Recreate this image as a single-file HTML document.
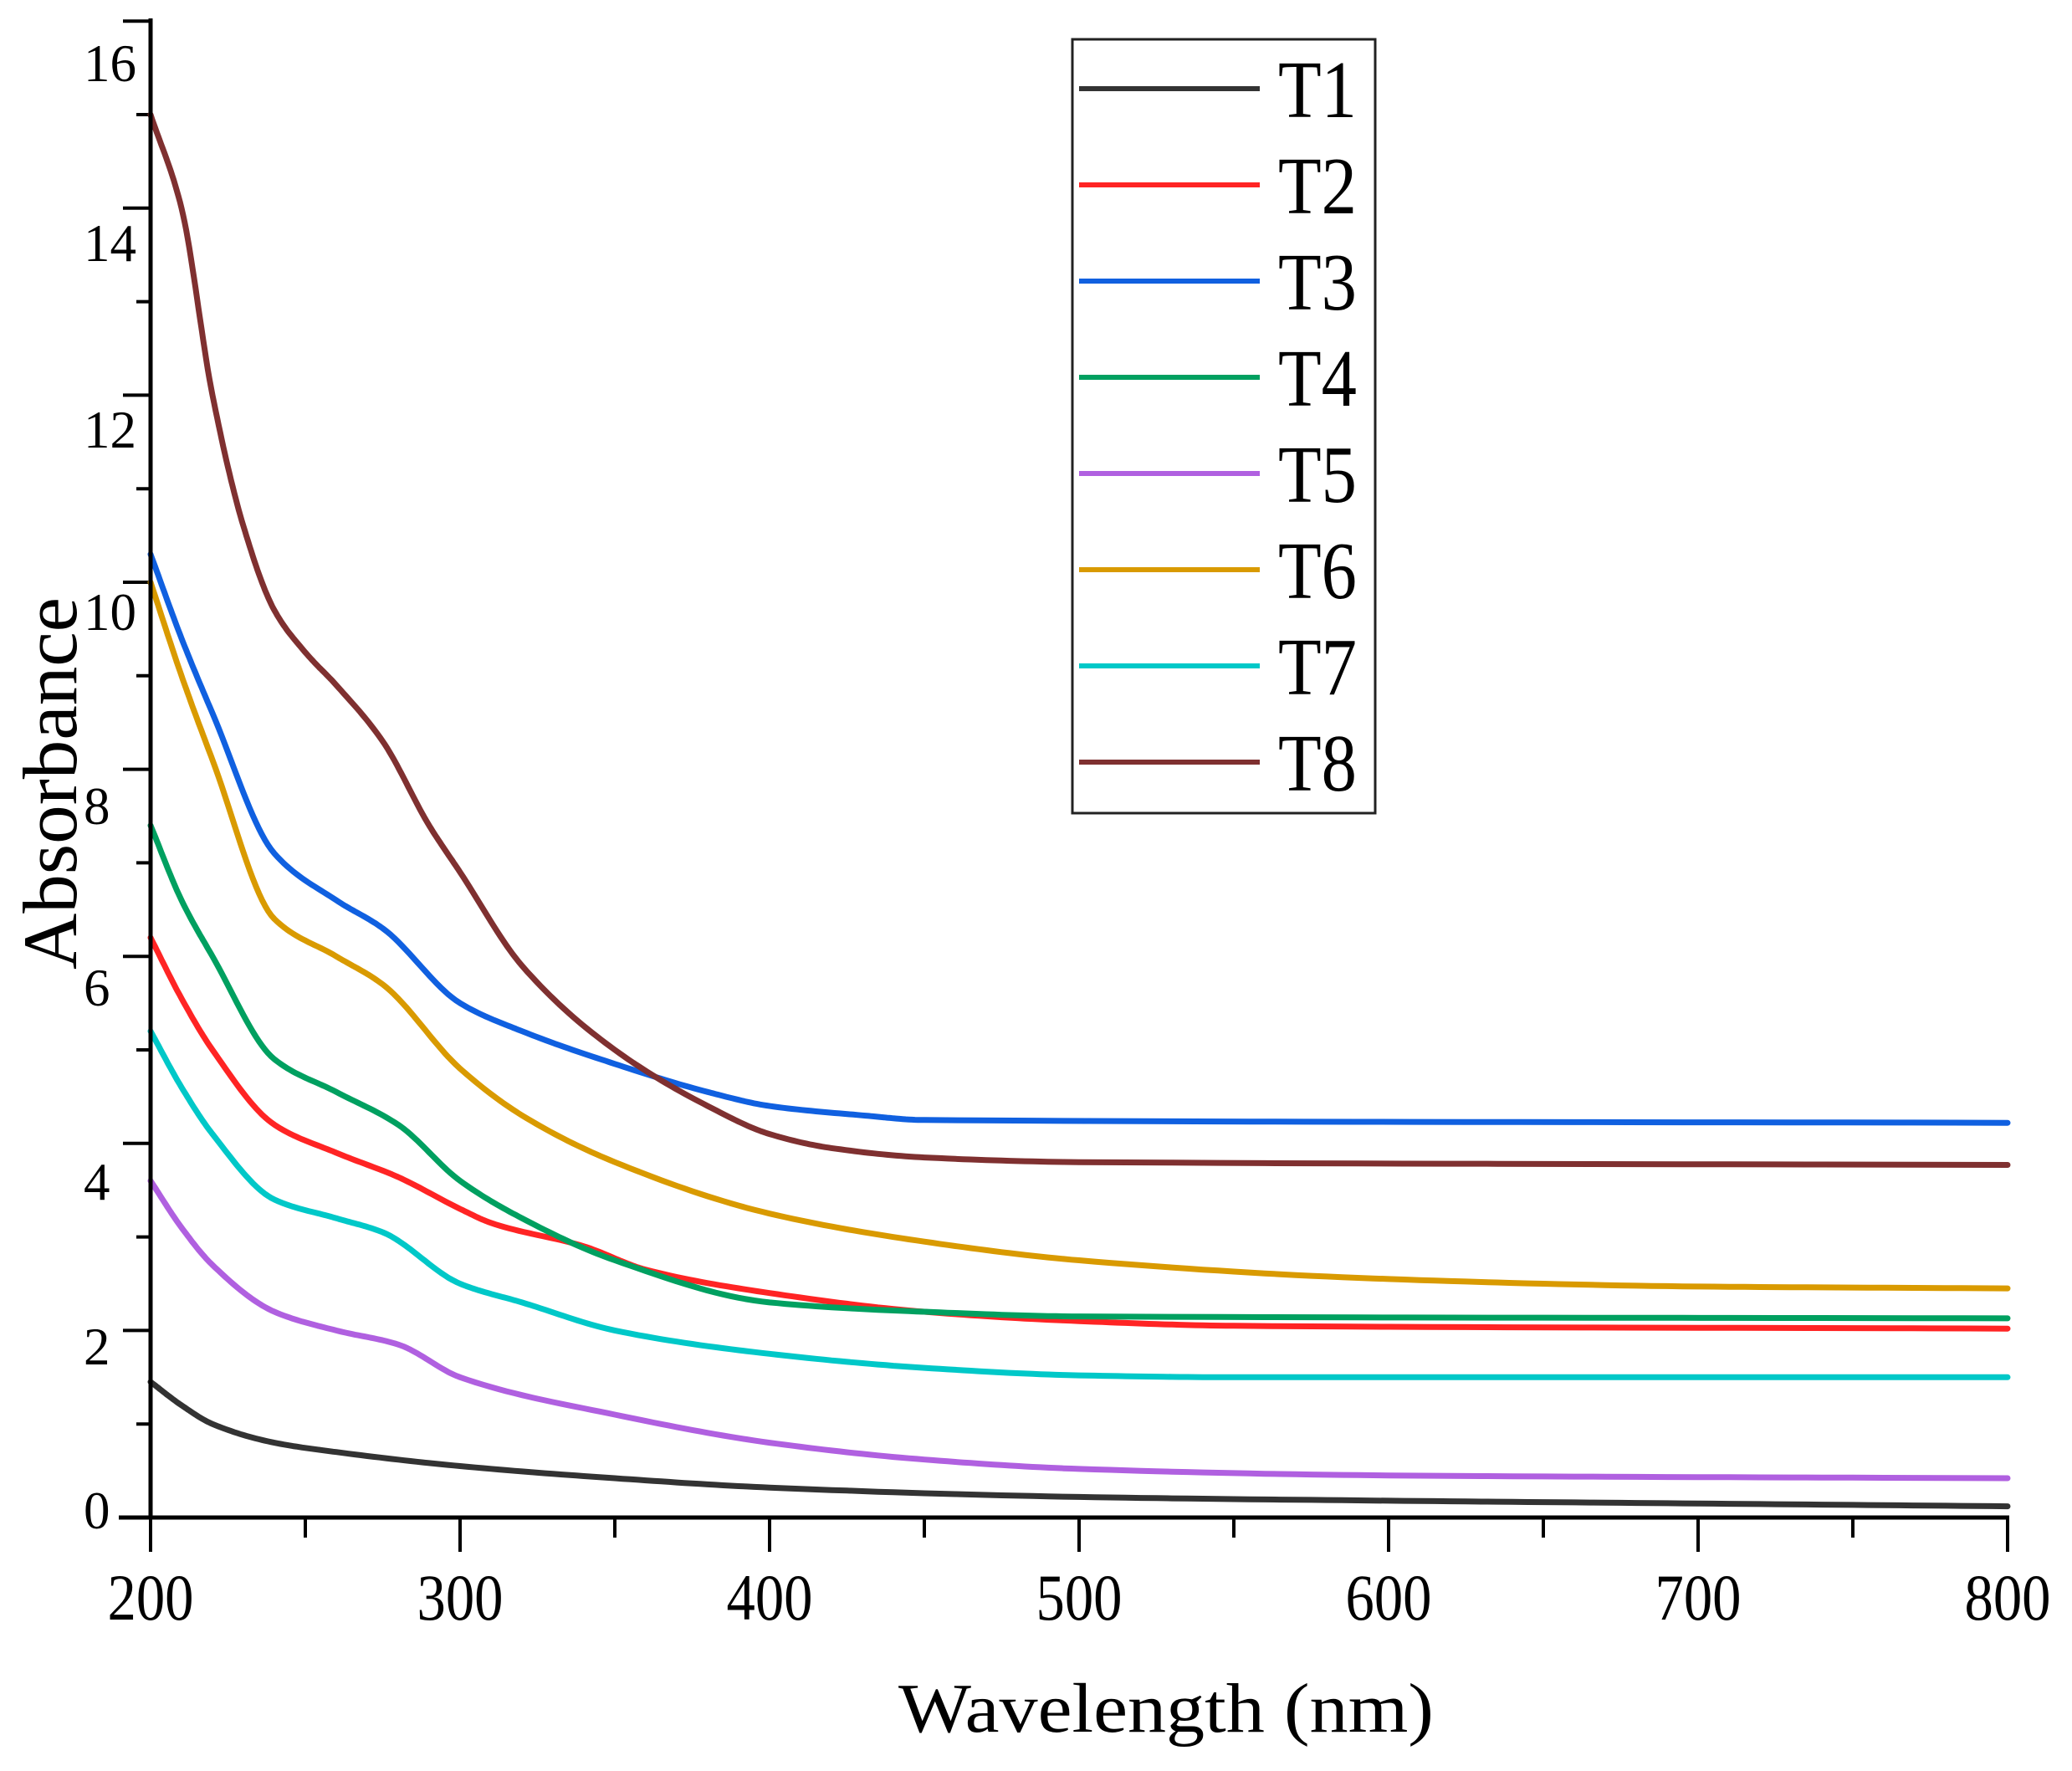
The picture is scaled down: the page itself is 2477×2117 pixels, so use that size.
<!DOCTYPE html>
<html><head><meta charset="utf-8"><style>html,body{margin:0;padding:0;background:#fff}svg{display:block}</style></head>
<body>
<svg id="s" width="2477" height="2117" viewBox="0 0 2477 2117" xmlns="http://www.w3.org/2000/svg" font-family="'Liberation Serif', serif">
<g id="ticks" stroke="#000" stroke-width="4"></g>
<g id="curves" fill="none" stroke-width="7" stroke-linejoin="round" stroke-linecap="round"></g>
<line x1="180" y1="22" x2="180" y2="1816" stroke="#000" stroke-width="5"/>
<line x1="142" y1="1814" x2="2402" y2="1814" stroke="#000" stroke-width="5"/>
<g font-size="63" fill="#000">
<text x="100" y="97">16</text><text x="100" y="312">14</text><text x="100" y="535">12</text>
<text x="100" y="753">10</text><text x="100" y="985">8</text><text x="100" y="1202">6</text>
<text x="100" y="1434">4</text><text x="100" y="1631">2</text><text x="100" y="1827">0</text>
</g>
<g font-size="78" fill="#000" text-anchor="middle" id="xl"></g>
<text x="1074" y="2070" font-size="84" textLength="640" lengthAdjust="spacingAndGlyphs">Wavelength (nm)</text>
<text transform="translate(91,1159) rotate(-90)" font-size="92" textLength="445" lengthAdjust="spacingAndGlyphs">Absorbance</text>
<rect x="1282" y="47" width="362" height="925" fill="#fff" stroke="#222" stroke-width="3"/>
<g id="leg"></g>
</svg>
<script>
var NS="http://www.w3.org/2000/svg";
function X(w){return 180+(w-200)*3.7;}
function Y(a){return 1814-a*111.8;}
function el(t,a,p){var e=document.createElementNS(NS,t);for(var k in a)e.setAttribute(k,a[k]);p.appendChild(e);return e;}
var tk=document.getElementById('ticks');
for(var i=0;i<=16;i++){var y=Y(i);el('line',{x1:(i%2?163:147),y1:y,x2:180,y2:y},tk);}
for(var w=200;w<=800;w+=50){var x=X(w);el('line',{x1:x,y1:1814,x2:x,y2:(w%100?1838:1855)},tk);}
var xl=document.getElementById('xl');
for(var w=200;w<=800;w+=100){var t=el('text',{x:X(w),y:1936,textLength:103,lengthAdjust:'spacingAndGlyphs'},xl);t.textContent=w;}
var S=[
["T1","#333333",[[200,1.45],[210,1.2],[220,1.0],[240,0.8],[260,0.7],[300,0.55],[350,0.42],[400,0.32],[500,0.22],[600,0.18],[700,0.15],[800,0.12]]],
["T2","#ff2424",[[200,6.2],[210,5.55],[220,5.0],[240,4.2],[260,3.9],[280,3.64],[300,3.3],[310,3.15],[340,2.9],[360,2.65],[400,2.4],[450,2.2],[500,2.1],[550,2.05],[800,2.02]]],
["T3","#1060e0",[[200,10.3],[210,9.4],[220,8.6],[240,7.1],[260,6.6],[275,6.3],[300,5.5],[320,5.2],[350,4.85],[380,4.55],[400,4.4],[430,4.3],[450,4.25],[800,4.22]]],
["T4","#00a060",[[200,7.4],[210,6.6],[220,6.0],[240,4.9],[260,4.55],[280,4.2],[300,3.6],[320,3.2],[350,2.75],[400,2.3],[450,2.2],[500,2.15],[800,2.13]]],
["T5","#b060e0",[[200,3.6],[210,3.1],[220,2.7],[240,2.2],[260,2.0],[280,1.85],[300,1.5],[350,1.1],[400,0.8],[450,0.62],[500,0.52],[600,0.45],[800,0.42]]],
["T6","#d99a00",[[200,10.0],[210,9.0],[220,8.1],[240,6.4],[260,6.0],[275,5.7],[300,4.8],[320,4.3],[350,3.8],[400,3.25],[450,2.95],[500,2.75],[600,2.55],[700,2.47],[800,2.45]]],
["T7","#00c8c8",[[200,5.2],[210,4.6],[220,4.1],[240,3.4],[260,3.2],[275,3.05],[300,2.5],[320,2.3],[350,2.0],[400,1.75],[450,1.6],[500,1.52],[550,1.5],[800,1.5]]],
["T8","#7f3030",[[200,15.0],[210,14.0],[220,12.0],[230,10.6],[240,9.7],[250,9.25],[260,8.9],[275,8.3],[290,7.4],[300,6.9],[320,5.9],[350,5.0],[380,4.4],[400,4.1],[420,3.95],[450,3.85],[500,3.8],[800,3.77]]]
];
function mono(pts){
 var n=pts.length,xs=pts.map(function(p){return p[0]}),ys=pts.map(function(p){return p[1]});
 var d=[],m=[];
 for(var i=0;i<n-1;i++)d.push((ys[i+1]-ys[i])/(xs[i+1]-xs[i]));
 m[0]=d[0];m[n-1]=d[n-2];
 for(var i=1;i<n-1;i++){ if(d[i-1]*d[i]<=0)m[i]=0; else {var h0=xs[i]-xs[i-1],h1=xs[i+1]-xs[i];var w1=2*h1+h0,w2=h1+2*h0;m[i]=(w1+w2)/(w1/d[i-1]+w2/d[i]);}}
 var out=[];
 for(var i=0;i<n-1;i++){var h=xs[i+1]-xs[i];for(var s=0;s<20;s++){var t=s/20,t2=t*t,t3=t2*t;
  var y=(2*t3-3*t2+1)*ys[i]+(t3-2*t2+t)*h*m[i]+(-2*t3+3*t2)*ys[i+1]+(t3-t2)*h*m[i+1];
  out.push([X(xs[i]+t*h),Y(y)]);}}
 out.push([X(xs[n-1]),Y(ys[n-1])]);
 return out;
}
var cv=document.getElementById('curves'),lg=document.getElementById('leg');
S.forEach(function(s,k){
 var p=mono(s[2]);
 var d="M"+p.map(function(q){return q[0].toFixed(1)+","+q[1].toFixed(1)}).join(" L");
 el('path',{d:d,stroke:s[1]},cv);
 var y=106+k*115;
 el('line',{x1:1290,y1:y,x2:1506,y2:y,stroke:s[1],'stroke-width':6},lg);
 var t=el('text',{x:1528,y:y+34,'font-size':97,textLength:94,lengthAdjust:'spacingAndGlyphs'},lg);t.textContent=s[0];
});
</script>
</body></html>
